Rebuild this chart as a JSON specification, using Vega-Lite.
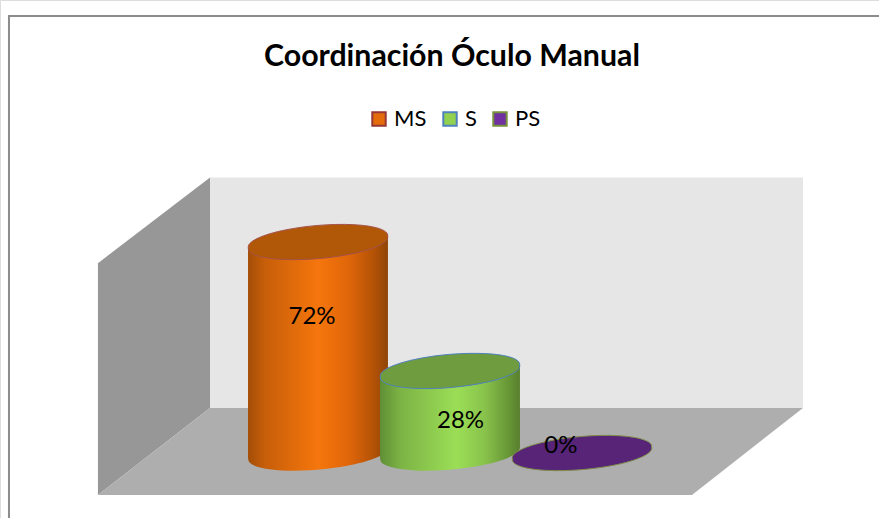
{
"$schema":"https://vega.github.io/schema/vega-lite/v6.json",
"width":879,"height":518,"padding":0,"autosize":{"type":"none"},
"background":"white",
"title":{"text":"Coordinación Óculo Manual","font":"Lato","fontSize":30.3,"fontWeight":"bold","color":"#000000","frame":"group","anchor":"start","dx":264,"dy":96,"baseline":"alphabetic","offset":0},
"datasets":{
"main":[{"category":"MS","pos":1,"value":72,"floorLevel":0},{"category":"S","pos":2,"value":28,"floorLevel":0},{"category":"PS","pos":3,"value":0,"floorLevel":0}],
"body":[{"category":"MS","px":0.47,"top":70,"base":-2},{"category":"MS","px":1.53,"top":74,"base":2},{"category":"S","px":1.47,"top":26,"base":-2},{"category":"S","px":2.53,"top":30,"base":2}],
"back":[{"px":0.182,"top":94,"base":15.4},{"px":4.674,"top":94,"base":15.4}],
"side":[{"px":-0.667,"top":64.8,"base":-14.3},{"px":0.182,"top":94,"base":15.4}],
"floor":[{"px":-0.667,"top":-14.3,"base":-14.3},{"px":0.182,"top":15.4,"base":-14.3},{"px":3.833,"top":15.4,"base":-14.3},{"px":4.674,"top":15.4,"base":15.4}],
"frame":[{"px":-1.341,"top":149.1,"px2":5.5,"base":-40}],
"labels":[{"label":"72%","px":0.955,"top":46.4,"category":"MS"},{"label":"28%","px":2.08,"top":11,"category":"S"},{"label":"0%","px":2.84,"top":2.4,"category":"PS"}]
},
"encoding":{
"x":{"field":"px","type":"quantitative","scale":{"domain":[-1.409,5.25],"nice":false,"zero":false,"padding":0},"axis":null},
"y":{"field":"top","type":"quantitative","scale":{"domain":[-22.18,154.6],"nice":false,"zero":false,"padding":0},"axis":null}
},
"layer":[
{"data":{"name":"frame"},"mark":{"type":"rect","fill":null,"stroke":"#8c8c8c","strokeWidth":2},"encoding":{"x2":{"field":"px2"},"y2":{"field":"base"}}},
{"data":{"name":"side"},"mark":{"type":"area","fill":"#979797"},"encoding":{"y2":{"field":"base"}}},
{"data":{"name":"back"},"mark":{"type":"area","fill":"#e6e6e6"},"encoding":{"y2":{"field":"base"}}},
{"data":{"name":"floor"},"mark":{"type":"area","fill":"#aeaeae"},"encoding":{"y2":{"field":"base"}}},
{"data":{"name":"main"},"mark":{"type":"bar","size":100},
 "encoding":{"x":{"field":"pos","type":"quantitative"},"y":{"field":"value","type":"quantitative"},"y2":{"field":"floorLevel"},
 "fill":{"field":"category","type":"nominal","scale":{"domain":["MS","S","PS"],"range":["#e46c0a","#92d050","#7030a0"]},
  "legend":{"title":null,"orient":"none","legendX":368,"legendY":109,"direction":"horizontal","columns":3,"symbolType":"square","symbolSize":180,"symbolStrokeWidth":2,"symbolOpacity":1,"labelFont":"Lato","labelFontSize":22,"labelColor":"#000000","labelLimit":100,"columnPadding":12,"symbolOffset":0,"labelOffset":4,"clipHeight":20}},
 "stroke":{"field":"category","type":"nominal","scale":{"domain":["MS","S","PS"],"range":["#953735","#4f81bd","#76923c"]}}}},
{"data":{"name":"main"},"transform":[{"filter":"datum.category==='MS'"}],"mark":{"type":"point","filled":true,"size":19600,"opacity":1,"shape":"M-0.995,0.085A1,0.225,-5,1,0,0.995,-0.085A1,0.225,-5,1,0,-0.995,0.085Z","fill":{"gradient":"linear","x1":0,"x2":1,"y1":0,"y2":0,"stops":[{"offset":0,"color":"#a34e08"},{"offset":0.12,"color":"#c75e09"},{"offset":0.5,"color":"#f5760c"},{"offset":0.72,"color":"#e0660a"},{"offset":0.9,"color":"#b35206"},{"offset":1,"color":"#8f4406"}]}},"encoding":{"x":{"field":"pos","type":"quantitative"},"y":{"field":"floorLevel","type":"quantitative"}}},
{"data":{"name":"body"},"transform":[{"filter":"datum.category==='MS'"}],"mark":{"type":"area","fill":{"gradient":"linear","x1":0,"x2":1,"y1":0,"y2":0,"stops":[{"offset":0,"color":"#a34e08"},{"offset":0.12,"color":"#c75e09"},{"offset":0.5,"color":"#f5760c"},{"offset":0.72,"color":"#e0660a"},{"offset":0.9,"color":"#b35206"},{"offset":1,"color":"#8f4406"}]}},"encoding":{"y2":{"field":"base"}}},
{"data":{"name":"main"},"transform":[{"filter":"datum.category==='MS'"}],"mark":{"type":"point","filled":true,"size":19600,"opacity":1,"fill":"#b05807","stroke":"#a5524a","strokeWidth":1,"shape":"M-0.995,0.085A1,0.225,-5,1,0,0.995,-0.085A1,0.225,-5,1,0,-0.995,0.085Z"},"encoding":{"x":{"field":"pos","type":"quantitative"},"y":{"field":"value","type":"quantitative"}}},
{"data":{"name":"main"},"transform":[{"filter":"datum.category==='S'"}],"mark":{"type":"point","filled":true,"size":19600,"opacity":1,"shape":"M-0.995,0.085A1,0.225,-5,1,0,0.995,-0.085A1,0.225,-5,1,0,-0.995,0.085Z","fill":{"gradient":"linear","x1":0,"x2":1,"y1":0,"y2":0,"stops":[{"offset":0,"color":"#5f8f36"},{"offset":0.15,"color":"#7db445"},{"offset":0.55,"color":"#9bde56"},{"offset":0.75,"color":"#88c24b"},{"offset":0.92,"color":"#679636"},{"offset":1,"color":"#587f2e"}]}},"encoding":{"x":{"field":"pos","type":"quantitative"},"y":{"field":"floorLevel","type":"quantitative"}}},
{"data":{"name":"body"},"transform":[{"filter":"datum.category==='S'"}],"mark":{"type":"area","fill":{"gradient":"linear","x1":0,"x2":1,"y1":0,"y2":0,"stops":[{"offset":0,"color":"#5f8f36"},{"offset":0.15,"color":"#7db445"},{"offset":0.55,"color":"#9bde56"},{"offset":0.75,"color":"#88c24b"},{"offset":0.92,"color":"#679636"},{"offset":1,"color":"#587f2e"}]}},"encoding":{"y2":{"field":"base"}}},
{"data":{"name":"main"},"transform":[{"filter":"datum.category==='S'"}],"mark":{"type":"point","filled":true,"size":19600,"opacity":1,"fill":"#6f9c3e","stroke":"#4f81bd","strokeWidth":1,"shape":"M-0.995,0.085A1,0.225,-5,1,0,0.995,-0.085A1,0.225,-5,1,0,-0.995,0.085Z"},"encoding":{"x":{"field":"pos","type":"quantitative"},"y":{"field":"value","type":"quantitative"}}},
{"data":{"name":"main"},"transform":[{"filter":"datum.category==='PS'"}],"mark":{"type":"point","filled":true,"size":19600,"opacity":1,"fill":"#572478","stroke":"#7f8f4a","strokeWidth":1,"shape":"M-0.995,0.085A1,0.225,-5,1,0,0.995,-0.085A1,0.225,-5,1,0,-0.995,0.085Z"},"encoding":{"x":{"field":"pos","type":"quantitative"},"y":{"field":"value","type":"quantitative"}}},
{"data":{"name":"labels"},"mark":{"type":"text","font":"Lato","fontSize":24,"color":"#000000","align":"center","baseline":"middle"},"encoding":{"text":{"field":"label","type":"nominal"}}}
]
}
